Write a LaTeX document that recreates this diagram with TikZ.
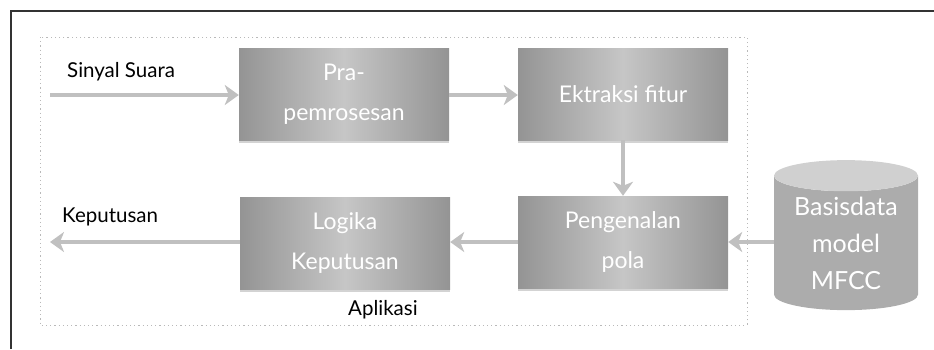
\documentclass[tikz,border=0pt]{standalone}
\usepackage{fontspec}
\setmainfont{Lato}
\usetikzlibrary{arrows.meta,shapes.geometric,shadows}

\definecolor{boxedge}{RGB}{148,148,148}
\definecolor{boxmid}{RGB}{198,198,198}
\definecolor{flowgray}{RGB}{192,192,192}
\definecolor{cylbody}{RGB}{172,172,172}
\definecolor{cyltop}{RGB}{208,208,208}

\tikzset{procbox/.style={rectangle,left color=boxedge,right color=boxedge,middle color=boxmid,text=white,align=center,minimum width=210pt,minimum height=92pt,font=\fontsize{23}{40}\selectfont,drop shadow={shadow xshift=0pt,shadow yshift=-3pt,opacity=0.35}}}
\tikzset{flow/.style={-{Stealth[length=14pt,width=20pt,inset=4pt]},line width=3.5pt,flowgray}}
\tikzset{lbl/.style={font=\fontsize{20.5}{24}\selectfont,anchor=base west,inner sep=0pt}}

\begin{document}
\begin{tikzpicture}[x=1pt,y=-1pt]
        \useasboundingbox (0,0) rectangle (934,349);
        % draw the frame and the application area
        \draw[line width=1.5pt,black!80] (11,349) -- (11,11) -- (934,11);
        \draw[gray!55,line width=1pt,dash pattern=on 1.2pt off 3pt] (40,37) rectangle (747,325);

        % draw the process blocks
        \node[procbox] (pre) at (344,94) {Pra-\\pemrosesan};
        \node[procbox] (fitur) at (623,94) {Ektraksi fitur};
        \node[procbox] (pola) at (623,242) {Pengenalan\\pola};
        \node[procbox] (logika) at (345,243) {Logika\\Keputusan};
        \node[cylinder,shape border rotate=90,aspect=0.3,minimum width=144pt,minimum height=150pt,cylinder uses custom fill,cylinder body fill=cylbody,cylinder end fill=cyltop,text=white,align=center,font=\fontsize{25}{37}\selectfont,inner sep=0pt] (db) at (846,243) {Basisdata\\model\\MFCC};

        % draw the labels
        \node[lbl] (sinyallbl) at (67,77) {Sinyal Suara};
        \node[lbl] (keplbl) at (62,222) {Keputusan};
        \node[lbl] (aplikasi) at (348,315) {Aplikasi};

        % draw the connectors
        \coordinate (sinyal) at (50,95);
        \coordinate (hasil) at (50,242);
        \draw[flow] (sinyal) -- (pre.west |- sinyal);
        \draw[flow] (pre.east |- sinyal) -- (fitur.west |- sinyal);
        \draw[flow] (fitur.south) -- (pola.north);
        \draw[flow] (pola.west |- hasil) -- (logika.east |- hasil);
        \draw[flow] (logika.west |- hasil) -- (hasil);
        \draw[flow] (db.west |- hasil) -- (pola.east |- hasil);
\end{tikzpicture}
\end{document}
